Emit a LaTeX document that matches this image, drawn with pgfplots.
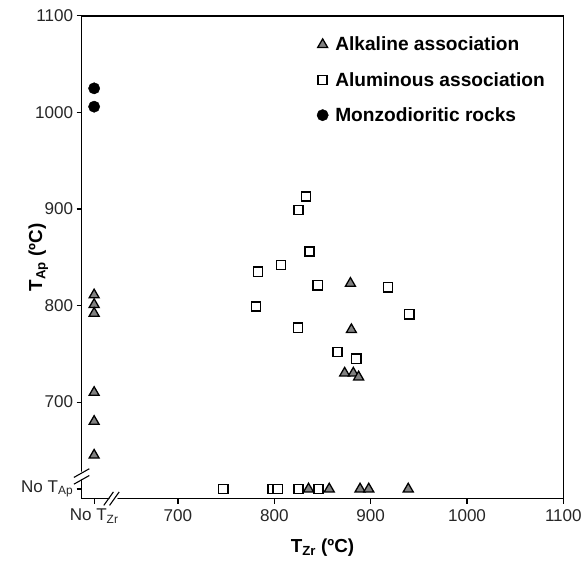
\documentclass[border=0pt]{standalone}
\usepackage{fontspec}
\setmainfont{Liberation Sans}
\usepackage{pgfplots}
\pgfplotsset{compat=1.18}
\begin{document}
\begin{tikzpicture}
\begin{axis}[
  scale only axis,
  width=484bp, height=485bp,
  xmin=600, xmax=1100, ymin=600, ymax=1100,
  axis line style={line width=1.3pt},
  tick style={line width=1.1pt, black},
  tick align=outside,
  major tick length=5bp,
  xtick pos=bottom, ytick pos=left,
  xtick={613,700,800,900,1000,1100},
  xticklabels={No T\textsubscript{Zr},700,800,900,1000,1100},
  ytick={610,700,800,900,1000,1100},
  yticklabels={No T\textsubscript{Ap},700,800,900,1000,1100},
  ticklabel style={font=\fontsize{17.2}{20}\selectfont, text=black!85},
  xticklabel style={yshift=-2bp},
  xlabel={\textbf{T\textsubscript{Zr} (ºC)}},
  ylabel={\textbf{T\textsubscript{Ap} (ºC)}},
  label style={font=\fontsize{19}{22}\selectfont},
  xlabel style={at={(axis description cs:0.5,-0.101)}, anchor=center},
  ylabel style={at={(axis description cs:-0.09,0.5)}, anchor=center},
  legend style={at={(0.482,0.965)}, anchor=north west, draw=none, fill=none,
    font=\bfseries\fontsize{19.3}{22}\selectfont, row sep=16bp,
    legend cell align=left, nodes={inner xsep=7bp}},
  clip=false,
]
% break marks
\fill[white] (axis cs:626,596) -- (axis cs:634,596) -- (axis cs:640,604) -- (axis cs:632,604) -- cycle;
\draw[line width=1.1pt] (axis cs:623,593) -- (axis cs:633,607);
\draw[line width=1.1pt] (axis cs:629,593) -- (axis cs:639,607);
\fill[white] (axis cs:596,618) -- (axis cs:604,622) -- (axis cs:604,630) -- (axis cs:596,626) -- cycle;
\draw[line width=1.1pt] (axis cs:592,615) -- (axis cs:608,624);
\draw[line width=1.1pt] (axis cs:592,622) -- (axis cs:608,631);

\addplot[only marks, mark=triangle*, mark size=5.8bp,
  mark options={fill=black!50, draw=black, line width=1.3pt}]
  coordinates {
  (613,811) (613,801) (613,792) (613,710) (613,680) (613,645)
  (879,823) (880,775) (873,730) (882,730) (887.5,726)
  (835.5,610) (857,610) (889,610) (898,610) (939,610)
  };
\addlegendentry{Alkaline association}
\addplot[only marks, mark=square*, mark size=4.6bp,
  mark options={fill=white, draw=black, line width=1.5pt}]
  coordinates {
  (833,913) (825,899) (836.5,856) (807,842) (783,835) (845,821)
  (918,819) (781,799) (940,791) (824.5,777) (865.5,752) (885,745)
  (747,610) (798,610) (803.5,610) (825,610) (846,610)
  };
\addlegendentry{Aluminous association}
\addplot[only marks, mark=*, mark size=5.7bp,
  mark options={fill=black, draw=black}]
  coordinates {(613,1025) (613,1006)};
\addlegendentry{Monzodioritic rocks}
\end{axis}
\path ([shift={(-82bp,-62bp)}]current axis.south west) rectangle ([shift={(19bp,16bp)}]current axis.north east);
\end{tikzpicture}
\end{document}
